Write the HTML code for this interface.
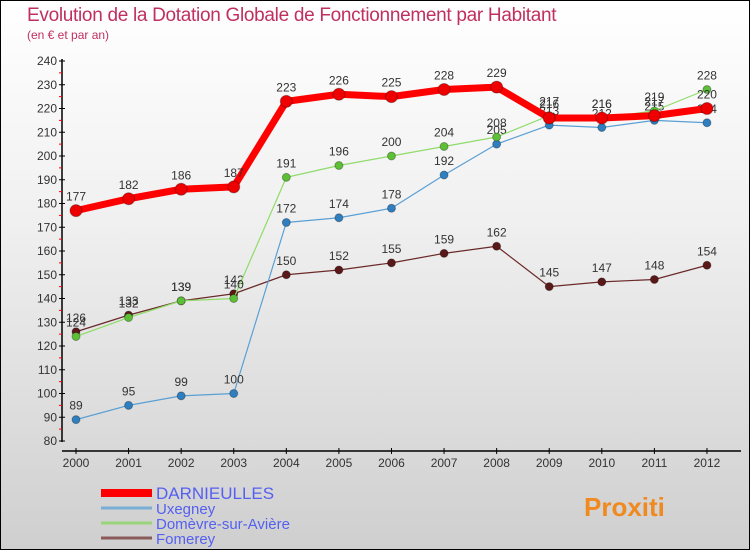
<!DOCTYPE html>
<html><head><meta charset="utf-8"><style>
body{margin:0}
#c{position:relative;width:750px;height:550px;box-sizing:border-box;border:1px solid #000;background:linear-gradient(#fff,#f0f0f0 40%,#cfcfcf);font-family:"Liberation Sans",sans-serif;overflow:hidden}
.t{position:absolute;left:26px;top:4px;font-size:19px;color:#c0305f;letter-spacing:-0.3px}
.s{position:absolute;left:26px;top:27px;font-size:12px;color:#c0305f}
svg{position:absolute;left:0;top:0}
</style></head><body>
<div id="c">
<div class="t">Evolution de la Dotation Globale de Fonctionnement par Habitant</div>
<div class="s">(en € et par an)</div>
<svg id="g" width="750" height="550"></svg>
</div>
<script>
const years=[2000,2001,2002,2003,2004,2005,2006,2007,2008,2009,2010,2011,2012];
const yTicks=[80,90,100,110,120,130,140,150,160,170,180,190,200,210,220,230,240];
const darnieulles=[177,182,186,187,223,226,225,228,229,216,216,217,220];
const uxegney=[89,95,99,100,172,174,178,192,205,213,212,215,214];
const domevre=[124,132,139,140,191,196,200,204,208,217,216,219,228];
const fomerey=[126,133,139,142,150,152,155,159,162,145,147,148,154];
const names=["DARNIEULLES","Uxegney","Domèvre-sur-Avière","Fomerey"];
const NS="http://www.w3.org/2000/svg",svg=document.getElementById('g');
const X=i=>75+i*52.58, Y=v=>440-(v-80)*380/160;
function el(t,a,p){const e=document.createElementNS(NS,t);for(const k in a)e.setAttribute(k,a[k]);(p||svg).appendChild(e);return e;}
let ax=el('line',{x1:61,y1:58,x2:61,y2:441,stroke:'#000','stroke-width':1.5});

let bx=el('line',{x1:61,y1:450,x2:740,y2:450,stroke:'#000','stroke-width':1.5});

yTicks.forEach((v,i)=>{el('line',{x1:58,y1:Y(v),x2:64,y2:Y(v),stroke:'#000'});
if(i<yTicks.length-1)el('line',{x1:58,y1:Y(v+5),x2:61,y2:Y(v+5),stroke:'#f00'});
let t=el('text',{x:56,y:Y(v)+4,'text-anchor':'end','font-size':12,fill:'#333'});t.textContent=v;
});
years.forEach((y,i)=>{el('line',{x1:X(i),y1:447,x2:X(i),y2:453,stroke:'#000'});
let t=el('text',{x:X(i),y:466,'text-anchor':'middle','font-size':12,fill:'#333'});t.textContent=y;
});
const series=[[fomerey,'#6b2a2a','#5a1818',1.2,4],[uxegney,'#5a9fd4','#2f7fc0',1.2,4],[domevre,'#8fdc6a','#5cbf35',1.2,4],[darnieulles,'#f00','#e00',7,6]];
const ids=['fomerey','uxegney','domevre','darnieulles'];
series.forEach(([d,c,pc,w,r],si)=>{
let p=el('polyline',{points:d.map((v,i)=>X(i)+','+Y(v)).join(' '),fill:'none',stroke:c,'stroke-width':w,'stroke-linejoin':'round'});

d.forEach((v,i)=>{let ci=el('circle',{cx:X(i),cy:Y(v),r:r,fill:pc,stroke:'rgba(0,0,0,0.3)'});

let t=el('text',{x:X(i),y:Y(v)-10,'text-anchor':'middle','font-size':12,fill:'#333'});t.textContent=v;
});});
const lc=['#f00','#7aaed6','#9ad47a','#8b5a5a'],lw=[8,3,3,3];
names.forEach((n,i)=>{let y=492+i*15;
el('line',{x1:100,y1:y,x2:151,y2:y,stroke:lc[i],'stroke-width':lw[i]});
let t=el('text',{x:155,y:y+6,'font-size':i==0?17:15,fill:'#5560f0'});t.textContent=n;
});
let lg=el('text',{x:583,y:515,'font-size':26,'font-weight':'bold',fill:'#f08a20'});lg.textContent='Proxiti';

</script>
</body></html>
